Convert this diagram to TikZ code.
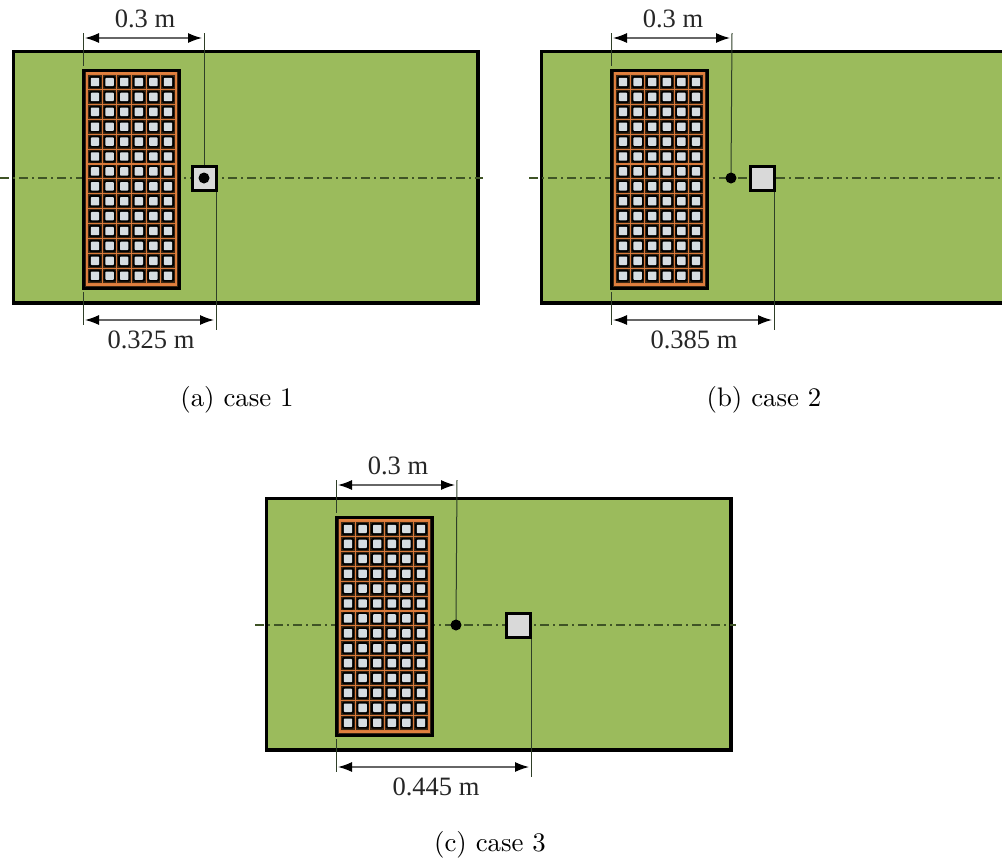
\documentclass[tikz,border=0pt]{standalone}
\usepackage{fontspec}
\newfontfamily\dimfont{Liberation Serif}
\usetikzlibrary{arrows.meta,calc}
\definecolor{boardgreen}{HTML}{9BBB5C}
\definecolor{cellgrey}{HTML}{D6DDE2}
\definecolor{sensorgrey}{HTML}{D9D9D9}
\definecolor{gridorange}{HTML}{D9793A}
\definecolor{frameorange}{HTML}{E0803F}
\definecolor{extgrey}{HTML}{2F3F28}
\definecolor{axisgreen}{HTML}{3F5426}
\tikzset{
  board/.style={draw=black,line width=3.2pt,fill=boardgreen},
  arrayframe/.style={draw=black,line width=3pt,fill=black!70!brown},
  gridline/.style={draw=gridorange,line width=1.1pt},
  ring/.style={fill=black,rounded corners=1.5pt},
  cell/.style={fill=cellgrey,draw=none,rounded corners=0.8pt},
  extline/.style={draw=extgrey,line width=1pt},
  dimline/.style={draw=black!60,line width=1.3pt,{Latex[length=14pt,width=10pt,black]}-{Latex[length=14pt,width=10pt,black]}},
  centreline/.style={draw=axisgreen,line width=1.1pt,dash pattern=on 9pt off 4pt on 1.5pt off 4.5pt},
  sensor/.style={draw=black,line width=3pt,fill=sensorgrey},
  dimlabel/.style={font=\dimfont\fontsize{26.5}{30}\selectfont,inner sep=0pt,text=black!85},
  caplabel/.style={font=\fontsize{10}{12}\selectfont,scale=2.68,inner sep=0pt}
}
% #1 x offset, #2 y offset, #3 lower-dimension x, #4 label, #5 label x, #6 dot x, #7 square x, #8 id
\newcommand{\panelpic}[8]{%
\begin{scope}[shift={(#1,#2)}]
  \draw[board] (13.5,51.5) rectangle (478,303);
  \draw[centreline] (#8,178) -- (483,178);
  \draw[arrayframe] (83.5,70) rectangle (179.5,288);
  \foreach \c in {0,...,6}{
    \path[gridline] ({87.7+\c*14.6},74.5) -- ({87.7+\c*14.6},284);
  }
  \foreach \r in {0,...,14}{
    \path[gridline] (87,{74.6+\r*14.9}) -- (176,{74.6+\r*14.9});
  }
  \foreach \c in {0,...,5}{\foreach \r in {0,...,13}{
    \fill[ring] ({95-6+\c*14.6},{82-6+\r*14.9}) rectangle ++(12,12);
    \fill[cell] ({95-4.2+\c*14.6},{82-4.2+\r*14.9}) rectangle ++(8.4,8.4);
  }}
  \draw[frameorange,line width=1.2pt] (86.5,73) rectangle (176.5,285);
  \draw[arrayframe,fill=none] (83.5,70) rectangle (179.5,288);
  \coordinate (ltop#8) at (83,33);
  \coordinate (lmid#8) at (83,66);
  \coordinate (lbot#8) at (83,292);
  \coordinate (llow#8) at (83,325);
  \coordinate (rtop#8) at (204,33);
  \coordinate (dot#8) at (#6,178);
  \coordinate (rlow#8) at (#3,330);
  \coordinate (rhi#8) at (#3,178);
  \draw[extline] (ltop#8) -- (lmid#8);
  \draw[extline] (lbot#8) -- (llow#8);
  \draw[extline] (rtop#8) -- (dot#8);
  \draw[extline] (rhi#8) -- (rlow#8);
  \node[sensor,minimum size=24pt,inner sep=0pt] (sq#8) at (#7,178) {};
  \fill[black] (dot#8) circle (5.5);
  \draw[dimline] (85,38) -- (202,38);
  \draw[dimline] (85,320) -- (#3-2,320);
  \node[dimlabel] (top#8) at (145,18.5) {0.3 m};
  \node[dimlabel] (low#8) at (#5,340) {#4};
\end{scope}}
\begin{document}
\begin{tikzpicture}[x=1pt,y=-1pt]
\useasboundingbox (0,0) rectangle (1002,860);
\clip (0,0) rectangle (1002,860);
\fill[white] (0,0) rectangle (1002,860);
\panelpic{0}{0}{216}{0.325 m}{151}{204}{204}{0}
\panelpic{528}{0}{246}{0.385 m}{166}{203}{234}{1}
\panelpic{253}{447}{278}{0.445 m}{183}{203}{265}{2}
\node[caplabel] (capa) at (237,399.5) {(a) case 1};
\node[caplabel] (capb) at (764,399.5) {(b) case 2};
\node[caplabel] (capc) at (490,844.5) {(c) case 3};
\end{tikzpicture}
\end{document}
